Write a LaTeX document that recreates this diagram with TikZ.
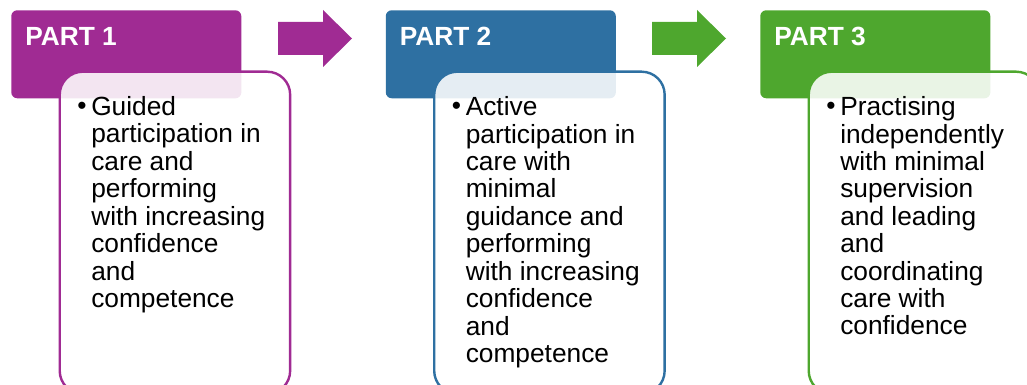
\documentclass[tikz,border=0pt]{standalone}
\usepackage{fontspec}
\setmainfont{Liberation Sans}
\definecolor{partone}{HTML}{A02B93}
\definecolor{parttwo}{HTML}{2E70A2}
\definecolor{partthree}{HTML}{4EA72E}
\tikzset{
	header/.style={draw=none, rounded corners=0.15cm, minimum width=5.75cm, minimum height=2.2cm, anchor=north west, inner sep=0},
	card/.style={line width=0.06cm, rounded corners=0.575cm, fill=white, fill opacity=0.88, minimum width=5.76cm, minimum height=8.05cm, anchor=north west, inner sep=0},
	partlabel/.style={text=white, font=\fontsize{18.7}{19.5}\selectfont\bfseries, anchor=base west, inner sep=0},
	cardtext/.style={text=black, font=\fontsize{18.7}{19.5}\selectfont, align=left, anchor=base west, inner sep=0},
	blockarrow/.style={draw=none}
}

\begin{document}
\begin{tikzpicture}[x=0.025cm, y=-0.025cm]
		%%%%% START %%%%%
		\useasboundingbox (0, 0) rectangle (1027, 385);
		\clip (0, 0) rectangle (1027, 385);
		
		% part 1 (multi-line text sits on the baseline of its last line)
		\node[header, fill=partone] (head1) at (11, 10) {};
		\node[partlabel] (label1) at (25, 46) {PART 1};
		\node[card, draw=partone] (card1) at (58.5, 70.5) {};
		\node[cardtext] (bullet1) at (77, 115) {•};
		\node[cardtext] (text1) at (91, 307.5) {Guided\\participation in\\care and\\performing\\with increasing\\confidence\\and\\competence};
		
		\draw[blockarrow, fill=partone] (278, 22) -- (323, 22) -- (323, 10) -- (352, 38.5) -- (323, 67) -- (323, 55) -- (278, 55) -- cycle;
		
		% part 2
		\node[header, fill=parttwo] (head2) at (385.5, 10) {};
		\node[partlabel] (label2) at (399.5, 46) {PART 2};
		\node[card, draw=parttwo] (card2) at (433, 70.5) {};
		\node[cardtext] (bullet2) at (451.5, 115) {•};
		\node[cardtext] (text2) at (465.5, 362.5) {Active\\participation in\\care with\\minimal\\guidance and\\performing\\with increasing\\confidence\\and\\competence};
		
		\draw[blockarrow, fill=partthree] (652, 22) -- (697, 22) -- (697, 10) -- (726, 38.5) -- (697, 67) -- (697, 55) -- (652, 55) -- cycle;
		
		% part 3
		\node[header, fill=partthree] (head3) at (760, 10) {};
		\node[partlabel] (label3) at (774, 46) {PART 3};
		\node[card, draw=partthree] (card3) at (807.5, 70.5) {};
		\node[cardtext] (bullet3) at (826, 115) {•};
		\node[cardtext] (text3) at (840, 335) {Practising\\independently\\with minimal\\supervision\\and leading\\and\\coordinating\\care with\\confidence};
		%%%%% END %%%%%
\end{tikzpicture}
\end{document}
